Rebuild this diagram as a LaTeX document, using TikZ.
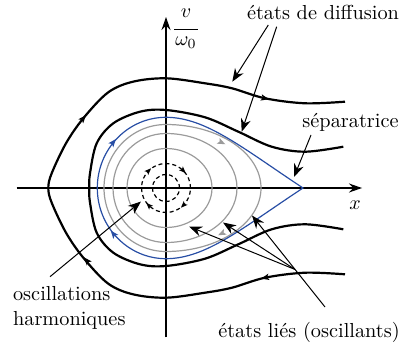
\documentclass[tikz,border=0pt]{standalone}
\usepackage{fontspec}
\usetikzlibrary{arrows.meta,calc}
\definecolor{sepblue}{RGB}{40,78,165}
\definecolor{orbgray}{RGB}{155,155,155}
\begin{document}
\begin{tikzpicture}[x=0.5pt,y=0.5pt,
  axisline/.style={line width=0.6pt,-{Stealth[length=6.5pt,width=4.5pt]}},
  scat/.style={line width=1.1pt},
  sepline/.style={sepblue,line width=0.6pt,line join=miter},
  orbline/.style={orbgray,line width=0.6pt},
  dashcirc/.style={line width=0.6pt,dash pattern=on 2pt off 1.5pt},
  annot/.style={line width=0.5pt,-{Stealth[length=6.5pt,width=5pt]}},
  lbl/.style={inner sep=0pt,font=\fontsize{10.15}{12.2}\selectfont},
  curvehead/.pic={\fill (4,0) -- (-4,3.2) -- (-2.2,0) -- (-4,-3.2) -- cycle;}
]
\useasboundingbox (-166,-159) rectangle (244,188);

% axes
\coordinate (xs) at (-149.3,0);
\coordinate (xe) at (196,0);
\coordinate (ys) at (0,-149.3);
\coordinate (ye) at (0,171);
\draw[axisline] (xs) -- (xe);
\draw[axisline] (ys) -- (ye);

% bound orbits (gray)
\draw[orbline] (0,39.5) .. controls (0.552*46,39.5) and (46,0.552*39.5) .. (46,0)
  .. controls (46,-0.552*39.5) and (0.552*46,-39.5) .. (0,-39.5)
  arc[start angle=270,end angle=90,x radius=39,y radius=39.5];
\draw[orbline] (0,54.5) .. controls (0.552*71,54.5) and (71,0.552*54.5) .. (71,0)
  .. controls (71,-0.552*54.5) and (0.552*71,-54.5) .. (0,-54.5)
  arc[start angle=270,end angle=90,x radius=53,y radius=54.5];
\draw[orbline] (0,63.5) .. controls (0.552*95,63.5) and (95,0.552*63.5) .. (95,0)
  .. controls (95,-0.552*63.5) and (0.552*95,-63.5) .. (0,-63.5)
  arc[start angle=270,end angle=90,x radius=62,y radius=63.5];
\pic[orbgray,rotate=-26] at (55.7,45.5) {curvehead};
\pic[orbgray,rotate=206] at (55.7,-45.5) {curvehead};

% separatrix
\draw[sepline] (137,0) .. controls (77,39.6) and (40,70.7) .. (0,70.7)
  arc[start angle=90,end angle=270,x radius=68.7,y radius=70.7]
  .. controls (40,-70.7) and (77,-39.6) .. (137,0) -- cycle;
\pic[sepblue,rotate=51] at (-52.7,45.8) {curvehead};
\pic[sepblue,rotate=129] at (-52.7,-45.8) {curvehead};

% scattering states
\draw[scat] plot[smooth,tension=0.55] coordinates {
  (179,86.3) (139,84.7) (99,89.7) (66,99.7) (39,104.7) (0,109.7) (-33,106.3)
  (-58,95.5) (-82.7,69.7) (-100,44.7) (-114.3,14.7) (-117.7,0)
  (-114.3,-14.7) (-100,-44.7) (-82.7,-69.7) (-58,-95.5) (-33,-106.3)
  (0,-109.7) (39,-104.7) (66,-99.7) (99,-89.7) (139,-84.7) (179,-86.3)};
\draw[scat] plot[smooth,tension=0.55] coordinates {
  (177.3,41.3) (139,36.3) (105.7,41.3) (72.3,56.3) (39,70.7) (0,78) (-26,76.3)
  (-52.7,64.7) (-69.3,44.7) (-76,14.7) (-76.7,0)
  (-76,-14.7) (-69.3,-44.7) (-52.7,-64.7) (-26,-76.3) (0,-78)
  (39,-70.7) (72.3,-56.3) (105.7,-41.3) (139,-36.3) (177.3,-41.3)};
\pic[rotate=50] at (-82.7,69.7) {curvehead};
\pic[rotate=-12] at (99,89.7) {curvehead};
\pic[rotate=192] at (99,-89.7) {curvehead};
\pic[rotate=130] at (-79.3,-72.5) {curvehead};

% small oscillations
\draw[dashcirc] (0,0) circle[radius=24.5];
\draw[dashcirc] (0,0) circle[radius=13.5];
\pic[scale=0.85,rotate=45] at (135:24.5) {curvehead};
\pic[scale=0.85,rotate=-45] at (45:24.5) {curvehead};
\pic[scale=0.85,rotate=-135] at (-45:24.5) {curvehead};
\pic[scale=0.85,rotate=135] at (-135:24.5) {curvehead};

% labels
\node[lbl] (diff) at (157,175.5) {états de diffusion};
\node[lbl] (sepl) at (184.5,65.4) {séparatrice};
\node[lbl,anchor=base west] (osc1) at (-153.3,-112) {oscillations};
\node[lbl,anchor=base west] (osc2) at (-153.3,-137.7) {harmoniques};
\node[lbl,anchor=base] (lies) at (143,-149) {états liés (oscillants)};
\node[lbl] (xl) at (189,-17) {$x$};
\node[lbl,anchor=base] (vnum) at (20,170) {$v$};
\node[lbl,anchor=base] (vden) at (20,142.5) {$\omega_0$};
\coordinate (barl) at (8,158.7);
\coordinate (barr) at (32,158.7);
\draw[line width=0.5pt] (barl) -- (barr);

% annotation connectors
\coordinate (d1s) at (102.3,163); \coordinate (d1t) at (66.3,106.3);
\coordinate (d2s) at (110.7,161.3); \coordinate (d2t) at (75.7,56.3);
\coordinate (ss) at (145,53); \coordinate (st) at (128,11);
\coordinate (os) at (-116,-88.7); \coordinate (ot) at (-25,-13.5);
\coordinate (ls) at (159,-119); \coordinate (lt3) at (86,-27.5);
\coordinate (lj) at ($(ls)!0.41!(lt3)$);
\coordinate (lt1) at (23,-38.5); \coordinate (lt2) at (57,-34.5);
\draw[annot] (d1s) -- (d1t);
\draw[annot] (d2s) -- (d2t);
\draw[annot] (ss) -- (st);
\draw[annot] (os) -- (ot);
\draw[annot] (ls) -- (lt3);
\draw[annot] (lj) -- (lt1);
\draw[annot] (lj) -- (lt2);
\end{tikzpicture}
\end{document}
